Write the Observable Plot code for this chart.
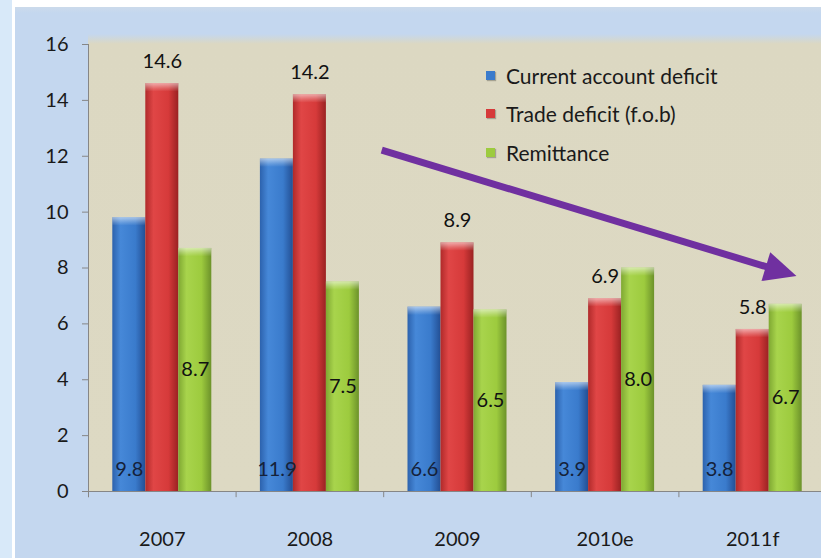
<!DOCTYPE html>
<html>
<head>
<meta charset="utf-8">
<script src="https://cdn.jsdelivr.net/npm/d3@7"></script>
<script src="https://cdn.jsdelivr.net/npm/@observablehq/plot@0.6"></script>
<style>
html, body { margin: 0; padding: 0; overflow: hidden; background: #ffffff; }
#wrap { position: relative; width: 821px; height: 558px; overflow: hidden; font-family: Lato, "Open Sans", sans-serif; }
#strip { position: absolute; left: 0; top: 0; width: 12px; height: 558px; background: #d8e9f9; }
#panel { position: absolute; left: 15px; top: 7px; right: 0; bottom: 0; background: linear-gradient(#ccdaeb 0px, #c4d7ef 6px, #c4d7ef 100%); }
#area { position: absolute; left: 88px; top: 34px; right: 0; height: 457px; background: linear-gradient(#c4d7ef 0px, #dcd8c2 10px, #ddd9c3 100%); }
#chart { position: absolute; left: 0; top: 0; }
#legend { position: absolute; left: 486px; top: 56px; font-size: 21px; color: #1a1a1a; }
.row { height: 38.5px; display: flex; align-items: center; white-space: nowrap; }
.sw { width: 9px; height: 9px; margin-right: 11px; box-shadow: 1px 1px 1px rgba(0,0,0,0.25); }
</style>
</head>
<body>
<svg width="0" height="0" style="position:absolute">
  <defs>
    <linearGradient id="g0" x1="0" x2="1" y1="0" y2="0">
      <stop offset="0%" stop-color="#2c62ad"/>
      <stop offset="25%" stop-color="#4688d8"/>
      <stop offset="70%" stop-color="#3a7bcc"/>
      <stop offset="100%" stop-color="#234f94"/>
    </linearGradient>
    <linearGradient id="g1" x1="0" x2="1" y1="0" y2="0">
      <stop offset="0%" stop-color="#b02a2a"/>
      <stop offset="25%" stop-color="#e04646"/>
      <stop offset="70%" stop-color="#d63a3a"/>
      <stop offset="100%" stop-color="#9a2222"/>
    </linearGradient>
    <linearGradient id="g2" x1="0" x2="1" y1="0" y2="0">
      <stop offset="0%" stop-color="#7fa832"/>
      <stop offset="25%" stop-color="#a8d44c"/>
      <stop offset="70%" stop-color="#9dcb3e"/>
      <stop offset="100%" stop-color="#6c922a"/>
    </linearGradient>
    <linearGradient id="cap" x1="0" x2="0" y1="0" y2="1">
      <stop offset="0%" stop-color="#ffffff" stop-opacity="0.55"/>
      <stop offset="60%" stop-color="#ffffff" stop-opacity="0.2"/>
      <stop offset="100%" stop-color="#ffffff" stop-opacity="0"/>
    </linearGradient>
  </defs>
</svg>
<div id="wrap">
  <div id="strip"></div>
  <div id="panel"></div>
  <div id="area"></div>
  <div id="chart"></div>
  <div id="legend"></div>
</div>
<script>
// ---- data ----
const years = ["2007", "2008", "2009", "2010e", "2011f"];
const seriesNames = ["Current account deficit", "Trade deficit (f.o.b)", "Remittance"];
const currentAccountDeficit = [9.8, 11.9, 6.6, 3.9, 3.8];
const tradeDeficit = [14.6, 14.2, 8.9, 6.9, 5.8];
const remittance = [8.7, 7.5, 6.5, 8.0, 6.7];
const yTicks = [0, 2, 4, 6, 8, 10, 12, 14, 16];
// annotation arrow (band + fraction of band, value)
const arrowFrom = {year: "2009", frac: -0.01, value: 12.2};
const arrowTo = {year: "2011f", frac: 0.8, value: 7.7};

// ---- layout ----
const W = 821, H = 558, mL = 88, mR = -5, mT = 44, mB = 67;
const step = (W - mL - mR) / years.length;
const barW = 33;
const gap = (step - 3 * barW) / 2;
const fills = ["url(#g0)", "url(#g1)", "url(#g2)"];
const swatch = ["#3a7bcc", "#d63a3a", "#9dcb3e"];
const axisColor = "#868686";
const fs = 20;

const seriesValues = [currentAccountDeficit, tradeDeficit, remittance];
const tables = seriesValues.map((vals, j) => years.map((year, i) => ({year, value: vals[i], series: seriesNames[j]})));

const bars = tables.flatMap((t, j) => {
  const inset = {insetLeft: gap + j * barW, insetRight: step - gap - (j + 1) * barW};
  return [
    Plot.barY(t, {x: "year", y: "value", fill: fills[j], ...inset}),
    Plot.barY(t, {x: "year", y1: d => d.value - 0.3, y2: "value", fill: "url(#cap)", ...inset})
  ];
});

const labels = [
  Plot.text(tables[0], {x: "year", y: () => 0, text: d => d.value.toFixed(1), dx: -barW, dy: -22, fontSize: fs, fill: "#15223a"}),
  Plot.text(tables[1], {x: "year", y: "value", text: d => d.value.toFixed(1), dx: 0, dy: -22, fontSize: fs, fill: "#111"}),
  Plot.text(tables[2], {x: "year", y: d => d.value / 2, text: d => d.value.toFixed(1), dx: barW, dy: 0, fontSize: fs, fill: "#111"})
];

function arrowMark(index, scales) {
  const x = scales.x, y = scales.y;
  const bw = x.bandwidth ? x.bandwidth() : 0;
  const x1 = x(arrowFrom.year) + arrowFrom.frac * bw, y1 = y(arrowFrom.value);
  const x2 = x(arrowTo.year) + arrowTo.frac * bw, y2 = y(arrowTo.value);
  const a = Math.atan2(y2 - y1, x2 - x1);
  const hl = 32, hw = 15;
  const bx = x2 - hl * Math.cos(a), by = y2 - hl * Math.sin(a);
  const g = d3.create("svg:g");
  g.append("line").attr("x1", x1).attr("y1", y1).attr("x2", bx + 2 * Math.cos(a)).attr("y2", by + 2 * Math.sin(a))
    .attr("stroke", "#7030a0").attr("stroke-width", 7);
  g.append("path").attr("fill", "#7030a0").attr("d",
    `M${x2},${y2}L${bx - hw * Math.sin(a)},${by + hw * Math.cos(a)}L${bx + hw * Math.sin(a)},${by - hw * Math.cos(a)}Z`);
  return g.node();
}

const chart = Plot.plot({
  width: W, height: H,
  marginLeft: mL, marginRight: mR, marginTop: mT, marginBottom: mB,
  style: {background: "transparent", fontFamily: "Lato, 'Open Sans', sans-serif", overflow: "visible"},
  x: {domain: years, padding: 0, round: false, label: null, axis: null},
  y: {domain: [0, 16], label: null, axis: null},
  marks: [
    ...bars,
    Plot.ruleY([0], {stroke: axisColor, strokeWidth: 1}),
    Plot.ruleX([years[0]], {x: d => d, dx: -step / 2, y1: -0.22, y2: 16, stroke: axisColor}),
    Plot.ruleX(years, {x: d => d, dx: -step / 2, y1: -0.22, y2: 0, stroke: axisColor}),
    Plot.axisY({ticks: yTicks, tickSize: 6, tickPadding: 14, stroke: axisColor, fill: "#1a1a1a", fontSize: fs, label: null}),
    Plot.axisX({tickSize: 0, tickPadding: 40, fill: "#1a1a1a", fontSize: fs, label: null}),
    ...labels,
    arrowMark
  ]
});
document.getElementById("chart").appendChild(chart);

// legend
const legend = d3.select("#legend");
seriesNames.forEach((name, j) => {
  const row = legend.append("div").attr("class", "row");
  row.append("div").attr("class", "sw").style("background", swatch[j]);
  row.append("span").text(name);
});
</script>
</body>
</html>
